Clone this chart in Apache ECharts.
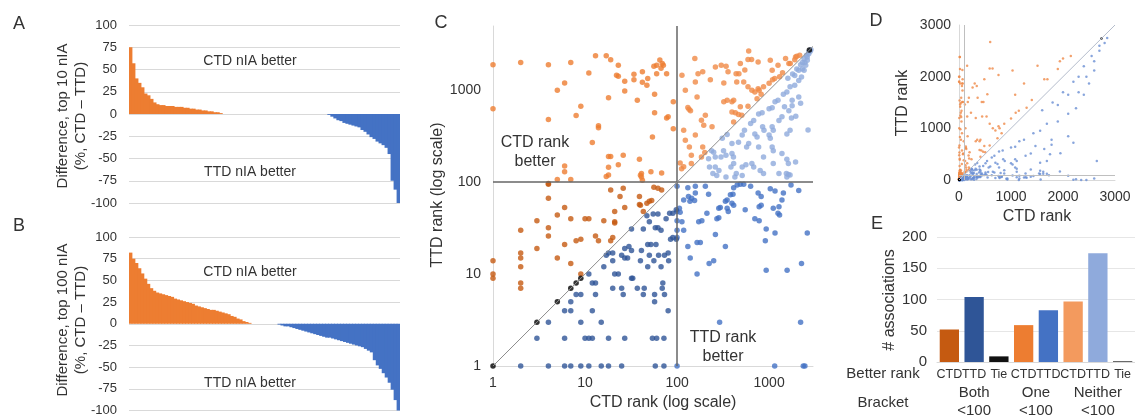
<!DOCTYPE html>
<html>
<head>
<meta charset="utf-8">
<script src="https://cdn.jsdelivr.net/npm/echarts@6/dist/echarts.min.js"></script>
<style>
  html, body { margin: 0; padding: 0; background: #fff; }
  #chart { width: 1135px; height: 417px; }
</style>
</head>
<body>
<div id="chart"></div>
<script>
// A: difference in top-10 nIA per association, sorted (%, CTD - TTD)
const diffTop10 = [
  75, 57, 40, 35, 30, 23, 21, 17, 13, 11, 10, 10, 9, 9, 9, 8, 8, 8, 7, 7, 6, 6, 5, 5, 4, 4, 3, 3, 2, 2, 1,
  0, 0, 0, 0, 0, 0, 0, 0, 0, 0, 0, 0, 0, 0, 0, 0, 0, 0, 0, 0, 0, 0, 0, 0, 0, 0, 0, 0, 0, 0, 0, 0, 0, 0, 0,
  -1, -3, -5, -7, -8, -10, -11, -12, -13, -14, -15, -18, -20, -23, -26, -28, -31, -33, -35, -38, -45, -75, -85, -100
];
// B: same for top-100 nIA
const diffTop100 = [
  82, 75, 70, 64, 58, 52, 46, 41, 38, 36, 35, 34, 33, 32, 31, 29, 28, 27, 26, 25, 24, 23, 21, 20, 19, 18, 17,
  16, 16, 15, 14, 13, 12, 11, 9, 8, 6, 5, 3, 2, 1,
  0, 0, 0, 0, 0, 0, 0, 0, 0,
  -1, -2, -3, -3, -4, -5, -6, -7, -8, -9, -10, -11, -12, -13, -14, -15, -16, -16, -17, -18, -19, -20, -21,
  -22, -23, -24, -25, -26, -27, -29, -31, -33, -42, -48, -52, -57, -62, -68, -76, -88, -100
];

// C / D: [CTD rank, TTD rank]
const ctdBoth = [[1,14],[1,10],[1,9],[2,30],[2,17],[2,15],[2,12],[2,8],[2,7],[3,38],[3,19],[4,95],[4,67],[4,32],
  [4,26],[5,44],[5,15],[6,53],[6,21],[7,40],[7,13],[8,23],[9,24],[9,10],[10,40],[11,40],[13,26],[14,23],[16,38],
  [19,82],[21,37],[21,36],[21,48],[20,25],[19,23],[24,70],[26,86],[27,53],[39,70],[39,57],[43,48],[50,62],[53,63],
  [56,88],[62,86],[68,82],[4,97],[40,56],[47,59]];
const ctdOne = [[1,1900],[1,630],[2,2000],[4,1900],[4,480],[5,1000],[6,1200],[6,150],[6,130],[5,107],[7,107],
  [7,2000],[8,530],[9,670],[11,1540],[12,270],[13,2380],[14,410],[14,390],[17,2380],[18,830],[18,190],[19,2150],
  [17,115],[18,120],[22,1460],[23,1420],[23,1870],[23,155],[26,196],[27,1250],[27,980],[34,1300],[34,1490],
  [37,780],[39,177],[41,124],[41,114],[42,1590],[42,1220],[47,1130],[48,1340],[52,130],[54,310],[56,1820],
  [60,1870],[65,2130],[67,1730],[69,1950],[71,1870],[60,1510],[57,905],[57,570],[77,1510],[80,515],[91,750],
  [91,380],[68,126],[77,500],[19,190],[18,145],[40,119],[42,105]];
const ctdNeither = [[156,2210],[113,1460],[123,1000],[131,650],[135,620],[140,600],[118,367],[123,285],[136,242],
  [143,196],[143,160],[108,162],[118,147],[190,242],[184,472],[203,535],[165,846],[158,1230],[169,1510],[190,1590],
  [261,1790],[302,1870],[341,1820],[230,1300],[322,1200],[358,1590],[438,1510],[487,1950],[600,2670],[590,2160],
  [645,2160],[760,2030],[470,1510],[545,1660],[445,1230],[530,1230],[590,1090],[650,1000],[780,1000],[820,905],
  [1030,2120],[1080,1650],[1250,1870],[1150,1340],[1510,2210],[1640,1950],[1940,2300],[1400,1550],[322,750],
  [350,780],[395,750],[412,780],[395,580],[430,570],[465,545],[505,535],[412,450],[487,660],[590,670],[740,810],
  [700,960],[760,1040],[870,1090],[1000,1190],[1090,1300],[1300,1400],[1700,1950],[1900,2150],[2000,2350],
  [2150,2400],[240,400],[195,415],[158,325],[184,188],[200,210],[112,140]];
const ttdBoth = [[2,1],[4,1],[6,1],[7,1],[9,1],[11,1],[15,1],[18,1],[25,1],[58,1],[72,1],
  [3,2],[6,2],[10,2],[11,2],[12,2],[18,2],[27,2],[54,2],[60,2],[72,2],[4,3],[9,3],[15,3],[6,4],[7,4],[12,4],[80,4],
  [7,5],[57,5],[8,6],[9,6],[13,6],[26,6],[43,6],[57,6],[73,6],[11,10],[13,8],[17,16],[18,17],[20,17],[16,12],
  [20,14],[21,10],[23,10],[20,7],[25,7],[27,15],[29,15],[25,16],[27,19],[30,20],[32,18],[32,9],[33,9],[37,7],
  [41,18],[40,14],[44,7],[50,16],[48,12],[52,21],[59,21],[56,14],[63,16],[67,12],[70,8],[69,7],[80,17],[85,24],
  [90,25],[98,24],[58,32],[62,32],[67,30],[43,31],[32,31],[48,21],[50,37],[47,43],[55,45],[62,45],[76,40],
  [83,46],[90,46],[98,50],[73,16],[81,14],[12,8]];
const ttdOne = [[100,90],[100,48],[100,38],[100,30],[100,25],[113,37],[118,30],[106,52],[108,47],[118,64],
  [133,70],[138,62],[144,67],[131,87],[158,90],[203,90],[220,74],[158,76],[155,63],[172,37],[186,38],[165,22],
  [179,22],[131,20],[139,15],[165,10],[223,13],[250,14],[261,27],[211,46],[271,40],[284,41],[284,52],[295,53],
  [335,62],[350,64],[350,52],[360,48],[380,73],[405,74],[412,87],[450,93],[487,95],[530,95],[395,59],[412,56],
  [335,20],[550,50],[630,90],[700,40],[780,38],[760,76],[820,70],[780,54],[820,56],[930,31],[910,23],[930,11],
  [1030,85],[1160,80],[1110,52],[1280,54],[1250,46],[1300,44],[1160,28],[1380,64],[1430,76],[1570,11],[1730,93],
  [2100,81],[2600,28],[2250,13],[290,3],[2200,3],[100,1],[1150,1],[2350,1],[2450,1]];
const ttdNeither = [[250,212],[237,220],[310,300],[350,330],[220,180],[260,188],[395,263],[465,272],[510,325],
  [540,367],[630,435],[680,470],[770,550],[840,570],[1000,630],[1080,645],[1160,750],[1250,780],[1430,905],
  [1560,955],[1690,1090],[1900,1130],[2100,1280],[2250,1390],[2400,1650],[2600,2120],[2700,2500],[2500,1870],
  [2800,2650],[2850,2750],[1780,780],[2100,846],[2200,720],[1780,680],[1470,660],[1640,600],[1380,515],[1280,470],
  [1750,500],[1950,520],[2650,370],[1690,367],[1560,335],[1080,400],[1110,367],[850,400],[880,367],[700,335],
  [740,310],[600,263],[570,242],[770,242],[1000,325],[1030,300],[1080,242],[1110,220],[870,188],[1380,205],
  [1560,177],[1620,160],[1940,166],[1280,124],[1540,124],[1620,121],[650,160],[680,146],[510,146],[560,155],
  [395,205],[410,188],[300,188],[340,196],[320,220],[260,146],[285,134],[225,146],[245,124],[385,146],[412,160],
  [440,124],[425,114],[510,118],[340,114],[800,134],[870,124],[1110,160],[270,118],[1560,114],[1690,120],
  [2300,2000],[2200,1900],[2400,2200],[2550,2400],[2000,1700],[1800,1500],[1600,1350],[2300,1700],[2450,2000],
  [2600,2300],[2100,1650],[1900,1450],[2700,2600]];
const tiePts = [[1,1],[3,3],[5,5],[7,7],[8,8],[9,9],[2740,2740]];
const rankCut = 100;

// E: number of associations by better rank and bracket
const betterRank = ['CTD', 'TTD', 'Tie', 'CTD', 'TTD', 'CTD', 'TTD', 'Tie'];
const assocCounts = [52, 104, 9, 59, 83, 97, 174, 1];
const bracketNames = ['Both\n<100', 'One\n<100', 'Neither\n<100'];
const bracketSpans = [[0, 2], [3, 4], [5, 7]];

const F = "'Liberation Sans', Arial, sans-serif";
const TXT = '#333';
const GRID_LINE = '#d9d9d9';
const barColors = ['#c55a11', '#2f5597', '#111111', '#ed7d31', '#4472c4', '#f39a5e', '#8faadc', '#111111'];

const chart = echarts.init(document.getElementById('chart'), null, { renderer: 'canvas' });

// colour each difference bar by its sign
const signColor = p => (p.value >= 0 ? '#ed7d31' : '#4472c4');
const diffYAxis = gi => ({
  type: 'value', gridIndex: gi, min: -100, max: 100, interval: 25,
  axisLine: { show: false }, axisTick: { show: false },
  axisLabel: { fontSize: 13, color: TXT, fontFamily: F, margin: 12 },
  splitLine: { lineStyle: { color: GRID_LINE, width: 1 } }
});
const hiddenCat = (gi, arr) => ({
  type: 'category', gridIndex: gi, data: arr.map((_, i) => i + 1),
  axisLine: { show: false }, axisTick: { show: false }, axisLabel: { show: false }
});
const intLabel = v => String(Math.round(v));
const scatterC = (data, color) => ({
  type: 'scatter', xAxisIndex: 2, yAxisIndex: 2, data: data, symbolSize: 5.5,
  itemStyle: { color: color }, z: 3
});
const scatterD = (data, color) => ({
  type: 'scatter', xAxisIndex: 3, yAxisIndex: 3, data: data, symbolSize: 2.5,
  itemStyle: { color: color }, z: 3
});

const option = {
  animation: false,
  textStyle: { fontFamily: F },
  grid: [
    { left: 129, top: 25, width: 271, height: 178 },
    { left: 129, top: 237, width: 271, height: 178 },
    { left: 493, top: 26, width: 320, height: 340 },
    { left: 959, top: 25, width: 156, height: 155 },
    { left: 937, top: 237, width: 208, height: 125 }
  ],
  xAxis: [
    hiddenCat(0, diffTop10),
    hiddenCat(1, diffTop100),
    {
      type: 'log', logBase: 10, gridIndex: 2, min: 1, max: 3000,
      axisLine: { lineStyle: { color: GRID_LINE } }, axisTick: { show: false },
      axisLabel: { fontSize: 14, color: TXT, margin: 10, showMaxLabel: false, formatter: intLabel },
      splitLine: { show: false }
    },
    {
      type: 'value', gridIndex: 3, min: 0, max: 3000, interval: 1000,
      axisLine: { lineStyle: { color: GRID_LINE } }, axisTick: { show: false },
      axisLabel: { fontSize: 14, color: TXT, margin: 10, formatter: intLabel },
      splitLine: { show: false }
    },
    {
      type: 'category', gridIndex: 4, data: betterRank,
      axisLine: { lineStyle: { color: GRID_LINE } }, axisTick: { show: false },
      axisLabel: { interval: 0, fontSize: 12.5, color: TXT, margin: 6 }
    }
  ],
  yAxis: [
    diffYAxis(0),
    diffYAxis(1),
    {
      type: 'log', logBase: 10, gridIndex: 2, min: 1, max: 5000,
      axisLine: { show: true, lineStyle: { color: GRID_LINE } }, axisTick: { show: false },
      axisLabel: { fontSize: 14, color: TXT, margin: 12, showMaxLabel: false, formatter: intLabel },
      splitLine: { show: false }
    },
    {
      type: 'value', gridIndex: 3, min: 0, max: 3000, interval: 1000,
      axisLine: { show: true, lineStyle: { color: GRID_LINE } }, axisTick: { show: false },
      axisLabel: { fontSize: 14, color: TXT, margin: 8, formatter: intLabel },
      splitLine: { show: false }
    },
    {
      type: 'value', gridIndex: 4, min: 0, max: 200, interval: 50,
      axisLine: { show: false }, axisTick: { show: false },
      axisLabel: { fontSize: 15, color: TXT, margin: 10 },
      splitLine: { lineStyle: { color: '#e6e6e6' } }
    }
  ],
  series: [
    // bars slightly wider than their category so neighbours overlap and no seams show
    { type: 'bar', xAxisIndex: 0, yAxisIndex: 0, data: diffTop10, barWidth: 3.8,
      itemStyle: { color: signColor } },
    { type: 'bar', xAxisIndex: 1, yAxisIndex: 1, data: diffTop100, barWidth: 3.8,
      itemStyle: { color: signColor } },
    {
      type: 'scatter', xAxisIndex: 2, yAxisIndex: 2, data: [], z: 1,
      markLine: {
        silent: true, symbol: 'none', label: { show: false },
        data: [
          { xAxis: rankCut, lineStyle: { color: '#666', width: 1.5, type: 'solid' } },
          { yAxis: rankCut, lineStyle: { color: '#666', width: 1.5, type: 'solid' } },
          [{ coord: [1, 1], lineStyle: { color: '#8c8c8c', width: 1, type: 'solid' } }, { coord: [3000, 3000] }]
        ]
      }
    },
    scatterC(ctdOne, '#ed7d31'),
    scatterC(ctdNeither, '#f08a46'),
    scatterC(ctdBoth, '#c55a11'),
    scatterC(ttdNeither, '#8faadc'),
    scatterC(ttdOne, '#4472c4'),
    scatterC(ttdBoth, '#2f5597'),
    scatterC(tiePts, '#000'),
    {
      type: 'scatter', xAxisIndex: 3, yAxisIndex: 3, data: [], z: 1,
      markLine: {
        silent: true, symbol: 'none', label: { show: false },
        data: [
          { xAxis: rankCut, lineStyle: { color: '#bfbfbf', width: 1, type: 'solid' } },
          { yAxis: rankCut, lineStyle: { color: '#bfbfbf', width: 1, type: 'solid' } },
          [{ coord: [0, 0], lineStyle: { color: '#b4bccb', width: 1, type: 'solid' } }, { coord: [3000, 3000] }]
        ]
      }
    },
    scatterD([].concat(ctdBoth, ctdOne, ctdNeither), '#ef8a48'),
    scatterD([].concat(ttdBoth, ttdOne, ttdNeither), '#6a8fd3'),
    scatterD(tiePts, '#000'),
    {
      type: 'bar', xAxisIndex: 4, yAxisIndex: 4, barCategoryGap: '22%',
      data: assocCounts.map((v, i) => ({ value: v, itemStyle: { color: barColors[i] } }))
    }
  ]
};
chart.setOption(option);

function txt(x, y, text, size, extra) {
  return Object.assign({
    type: 'text', x: x, y: y, silent: true,
    style: { text: text, fontSize: size, fontFamily: F, fill: TXT, align: 'center', verticalAlign: 'middle', lineHeight: size + 3 }
  }, extra || {});
}
const rot = { rotation: Math.PI / 2 };

const graphics = [
  txt(19, 24, 'A', 18, {}), txt(19, 226, 'B', 18, {}), txt(441, 23, 'C', 18, {}),
  txt(876, 21, 'D', 18, {}), txt(877, 224, 'E', 18, {}),
  txt(250, 61, 'CTD nIA better', 14), txt(250, 172, 'TTD nIA better', 14),
  txt(250, 272, 'CTD nIA better', 14), txt(250, 383, 'TTD nIA better', 14),
  txt(72, 116, 'Difference, top 10 nIA\n(%, CTD \u2013 TTD)', 15, rot),
  txt(72, 320, 'Difference, top 100 nIA\n(%, CTD \u2013 TTD)', 15, rot),
  txt(535, 152, 'CTD rank\nbetter', 16), txt(723, 347, 'TTD rank\nbetter', 16),
  txt(663, 403, 'CTD rank (log scale)', 16), txt(438, 195, 'TTD rank (log scale)', 16, rot),
  txt(903, 103, 'TTD rank', 16, rot), txt(1037, 217, 'CTD rank', 16),
  txt(890, 300, '# associations', 16, rot),
  txt(883, 374, 'Better rank', 15), txt(883, 403, 'Bracket', 15)
];
bracketSpans.forEach((span, i) => {
  const x0 = chart.convertToPixel({ xAxisIndex: 4 }, span[0]);
  const x1 = chart.convertToPixel({ xAxisIndex: 4 }, span[1]);
  graphics.push(txt((x0 + x1) / 2, 402, bracketNames[i], 15, {}));
});
chart.setOption({ graphic: graphics });
</script>
</body>
</html>
